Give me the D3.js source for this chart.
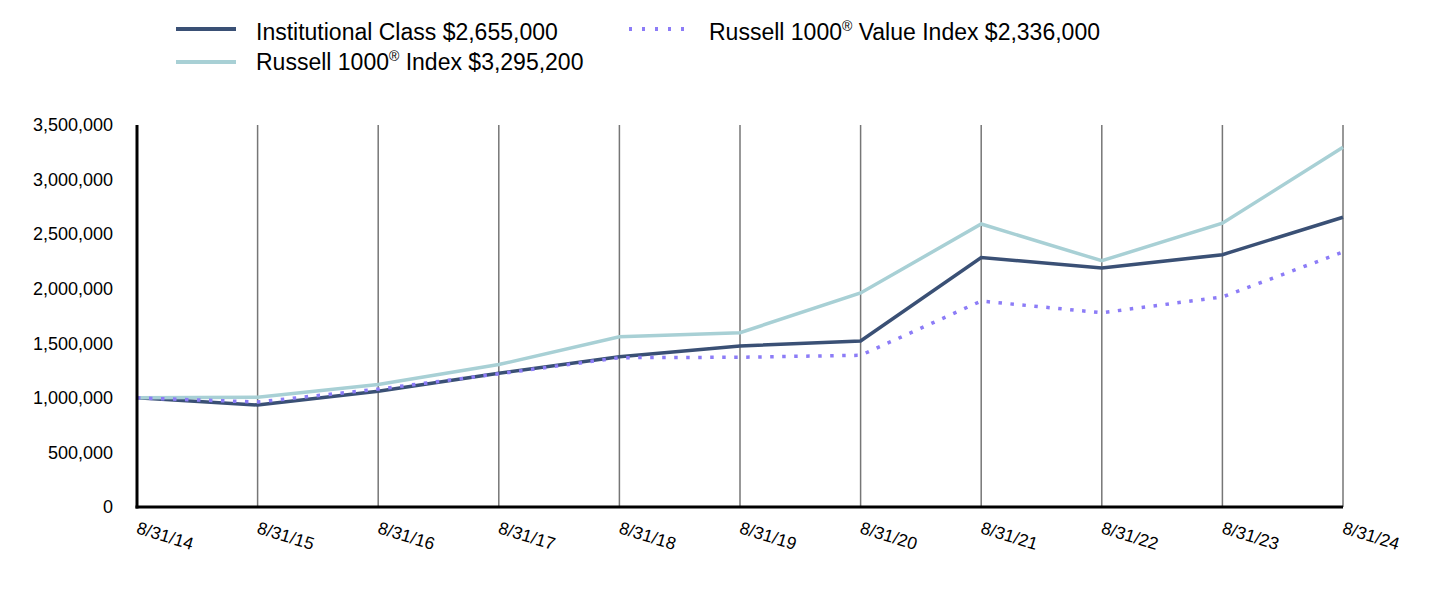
<!DOCTYPE html>
<html>
<head>
<meta charset="utf-8">
<script src="https://cdn.jsdelivr.net/npm/d3@7"></script>
<style>
  html, body { margin: 0; padding: 0; background: #fff; }
  svg { display: block; font-family: "Liberation Sans", Arial, sans-serif; }
</style>
</head>
<body>
<svg id="chart" width="1432" height="596"></svg>
<script>
const dates = ["8/31/14","8/31/15","8/31/16","8/31/17","8/31/18","8/31/19","8/31/20","8/31/21","8/31/22","8/31/23","8/31/24"];
const institutional = [1000000, 934000, 1060000, 1225000, 1377000, 1475000, 1521000, 2285000, 2190000, 2312000, 2655000];
const russell1000 = [1000000, 1005000, 1122000, 1305000, 1560000, 1597000, 1961000, 2593000, 2256000, 2600000, 3295200];
const russellValue = [1000000, 962000, 1080000, 1220000, 1368000, 1372000, 1390000, 1887000, 1780000, 1925000, 2336000];
const yTicks = [0, 500000, 1000000, 1500000, 2000000, 2500000, 3000000, 3500000];

const seriesNames = ["Institutional Class $2,655,000", "Russell 1000® Index $3,295,200", "Russell 1000® Value Index $2,336,000"];
const series = [
  {name: seriesNames[0], values: institutional, color: "#3a5075", width: 3.5, dash: null, legendDash: null},
  {name: seriesNames[1], values: russell1000, color: "#a8d0d5", width: 3.5, dash: null, legendDash: null},
  {name: seriesNames[2], values: russellValue, color: "#8c7cf7", width: 3.5, dash: "3.5,8.5", legendDash: "3,10"}
];

const svg = d3.select("#chart");
const margin = {left: 137, right: 1343, top: 125, bottom: 507};

const x = d3.scalePoint().domain(dates).range([margin.left, margin.right]);
const y = d3.scaleLinear().domain([0, 3500000]).range([margin.bottom, margin.top]);

// vertical gridlines
svg.append("g").selectAll("line").data(dates.slice(1)).join("line")
  .attr("x1", d => x(d)).attr("x2", d => x(d))
  .attr("y1", y(0)).attr("y2", y(3500000))
  .attr("stroke", "#767676").attr("stroke-width", 1.5);

// y axis labels
const yAxis = d3.axisLeft(y).tickValues(yTicks).tickSize(0).tickPadding(24)
  .tickFormat(d3.format(","));
const gy = svg.append("g").attr("transform", `translate(${margin.left},0)`).call(yAxis);
gy.select(".domain").remove();
gy.selectAll("text").attr("font-size", 18).attr("fill", "#000")
  .attr("font-family", "'Liberation Sans', Arial, sans-serif");

// x axis labels
const xAxis = d3.axisBottom(x).tickSize(0).tickPadding(0);
const gx = svg.append("g").attr("transform", `translate(0,${margin.bottom})`).call(xAxis);
gx.select(".domain").remove();
gx.selectAll("text")
  .attr("font-size", 17.5).attr("fill", "#000")
  .attr("font-family", "'Liberation Sans', Arial, sans-serif")
  .attr("text-anchor", "start")
  .attr("dy", null).attr("y", null)
  .attr("transform", "translate(-2,26) rotate(17)");

// lines
const line = d3.line().x((d, i) => x(dates[i])).y(d => y(d));
svg.append("g").selectAll("path").data(series).join("path")
  .attr("d", d => line(d.values))
  .attr("fill", "none")
  .attr("stroke", d => d.color)
  .attr("stroke-width", d => d.width)
  .attr("stroke-dasharray", d => d.dash)
  .attr("stroke-linejoin", "miter");

// axes lines
svg.append("line").attr("x1", margin.left).attr("x2", margin.left)
  .attr("y1", y(3500000)).attr("y2", y(0) + 1.5)
  .attr("stroke", "#000").attr("stroke-width", 3);
svg.append("line").attr("x1", margin.left - 1.5).attr("x2", margin.right)
  .attr("y1", y(0)).attr("y2", y(0))
  .attr("stroke", "#000").attr("stroke-width", 3);

// legend
const legendPos = [
  {lx: 176, ly: 29, ty: 39.5},
  {lx: 176, ly: 62, ty: 69.5},
  {lx: 629, ly: 29, ty: 39.5}
];
const lg = svg.append("g").selectAll("g").data(series).join("g")
  .attr("transform", (d, i) => `translate(${legendPos[i].lx},0)`);
lg.append("line").attr("x1", 0).attr("x2", 60)
  .attr("y1", (d, i) => legendPos[i].ly).attr("y2", (d, i) => legendPos[i].ly)
  .attr("stroke", d => d.color).attr("stroke-width", 4)
  .attr("stroke-dasharray", d => d.legendDash);
lg.append("text").attr("x", 80).attr("y", (d, i) => legendPos[i].ty)
  .attr("font-size", 23).attr("fill", "#000")
  .each(function(d) {
    const t = d3.select(this);
    const parts = d.name.split("®");
    t.append("tspan").text(parts[0]);
    if (parts.length > 1) {
      t.append("tspan").attr("font-size", 14).attr("dy", -9).text("®");
      t.append("tspan").attr("dy", 9).text(parts[1]);
    }
  });
</script>
</body>
</html>
